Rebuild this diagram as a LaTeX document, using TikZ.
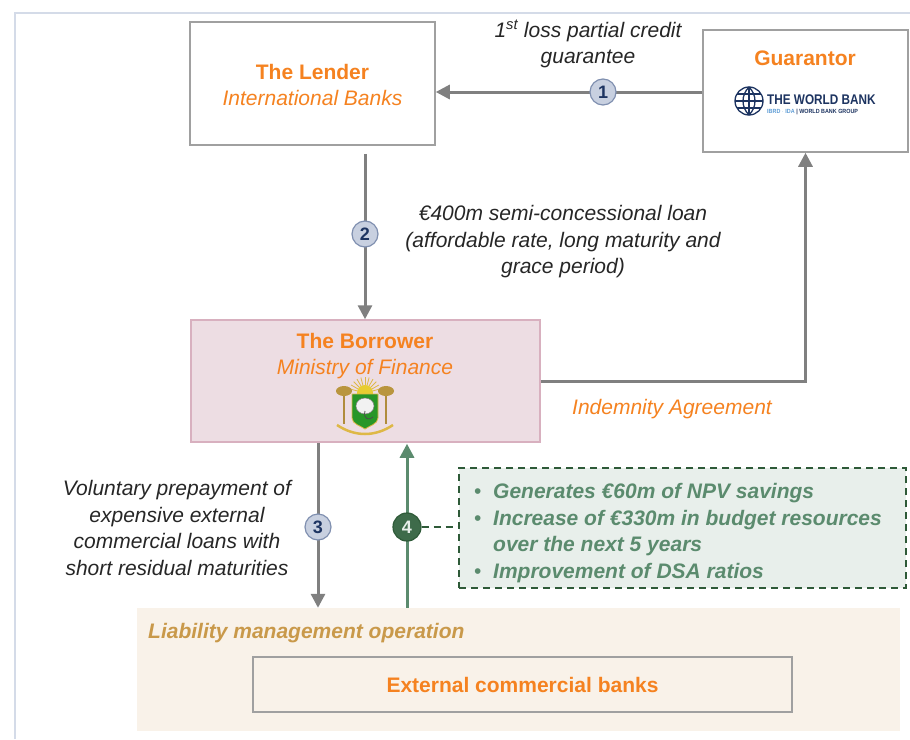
\documentclass[tikz,border=0pt]{standalone}
\usepackage{fontspec}
\setmainfont{Liberation Sans}
\usetikzlibrary{arrows.meta}
\definecolor{orng}{RGB}{245,130,32}
\definecolor{txt}{RGB}{38,38,38}
\definecolor{boxgray}{RGB}{160,160,160}
\definecolor{flowgray}{RGB}{128,128,128}
\definecolor{pinkfill}{RGB}{237,221,227}
\definecolor{pinkedge}{RGB}{216,176,191}
\definecolor{grn}{RGB}{91,139,110}
\definecolor{dkgrn}{RGB}{46,90,56}
\definecolor{midgrn}{RGB}{62,107,74}
\definecolor{grnfill}{RGB}{232,239,235}
\definecolor{beige}{RGB}{249,242,233}
\definecolor{lmotxt}{RGB}{201,153,74}
\definecolor{nbfill}{RGB}{200,208,224}
\definecolor{nbedge}{RGB}{128,144,176}
\definecolor{navy}{RGB}{29,52,97}
\definecolor{ltblue}{RGB}{91,155,213}
\definecolor{framec}{RGB}{212,219,232}
\definecolor{gold}{RGB}{222,184,70}
\definecolor{palm}{RGB}{176,140,60}
\definecolor{shield}{RGB}{40,150,40}
\begin{document}
\begin{tikzpicture}
[x=1pt,y=-1pt
,bx/.style={draw=boxgray,line width=1.5pt,inner sep=0pt}
,fl/.style={draw=flowgray,line width=3pt,arrows={-Triangle[width=14pt,length=14pt]}}
,gfl/.style={fl,draw=grn,arrows={-Triangle[width=14pt,length=14pt,fill=grn]}}
,nb/.style={circle,draw=nbedge,fill=nbfill,line width=1.2pt,minimum size=26pt,inner sep=0pt,text=navy,font=\fontsize{18}{18}\selectfont\bfseries}
,gnb/.style={nb,draw=dkgrn,fill=midgrn,text=white!85!grn}
,lbl/.style={align=center,text=txt,font=\fontsize{21}{26.5}\selectfont\itshape}
,ttl/.style={align=center,text=orng,font=\fontsize{21}{26.5}\selectfont}
]
\useasboundingbox (0,0) rectangle (910,739);
\draw[framec,line width=2pt] (15,739) -- (15,13) -- (910,13);

% boxes
\node[fill=beige,minimum width=763pt,minimum height=123pt,inner sep=0pt] (lmo) at (518.5,669.5) {};
\node[anchor=west,text=lmotxt,font=\fontsize{21}{26}\selectfont\bfseries\itshape,inner sep=0pt] (lmotitle) at (148,633) {Liability management operation};
\node[bx,fill=white,minimum width=245pt,minimum height=123pt] (lender) at (312.5,83.5) {};
\node[ttl] (lendertxt) at (312.5,85) {\bfseries The Lender\\\itshape International Banks};
\node[bx,fill=white,minimum width=205pt,minimum height=122pt] (guarantor) at (805.5,91) {};
\node[ttl,font=\fontsize{21}{26}\selectfont\bfseries] (guarantortxt) at (805,58) {Guarantor};
\node[bx,draw=pinkedge,fill=pinkfill,minimum width=349pt,minimum height=122pt] (borrower) at (365.5,381) {};
\node[ttl] (borrowertxt) at (365,356) {\bfseries The Borrower\\\itshape Ministry of Finance};
\node[bx,fill=none,minimum width=539pt,minimum height=55pt] (banks) at (522.5,684.5) {};
\node[ttl,font=\fontsize{21}{26}\selectfont\bfseries] (bankstxt) at (banks) {External commercial banks};
\node[draw=dkgrn,fill=grnfill,line width=2pt,dash pattern=on 7pt off 5pt,minimum width=447pt,minimum height=120pt,inner sep=0pt] (benefits) at (682.5,528) {};
\node[anchor=west,align=left,inner sep=0pt,text=grn,font=\fontsize{21}{26.6}\selectfont\bfseries\itshape] (benefitstxt) at (474,533)
{\makebox[19pt][l]{\mdseries\upshape\textbullet}Generates €60m of NPV savings\\
\makebox[19pt][l]{\mdseries\upshape\textbullet}Increase of €330m in budget resources\\
\hspace*{19pt}over the next 5 years\\
\makebox[19pt][l]{\mdseries\upshape\textbullet}Improvement of DSA ratios};

% world bank logo
\begin{scope}[navy,line width=1.3pt]
\draw (749,101) circle (14);
\draw (749,87) .. controls (741,95) and (741,107) .. (749,115);
\draw (749,87) .. controls (757,95) and (757,107) .. (749,115);
\draw (749,87) -- (749,115);
\draw (737,94) -- (761,94);
\draw (735,101) -- (763,101);
\draw (737,108) -- (761,108);
\end{scope}
\node[anchor=west,inner sep=0pt,text=navy,font=\fontsize{14}{14}\selectfont\bfseries] (wbname) at (767,100) {\scalebox{0.84}[1]{THE WORLD BANK}};
\node[anchor=west,inner sep=0pt,text=navy,font=\fontsize{6}{6}\selectfont\bfseries] (wbgroup) at (767,111.5) {\scalebox{0.9}[1]{\textcolor{ltblue}{IBRD $\cdot$ IDA} | WORLD BANK GROUP}};

% emblem
\begin{scope}[shift={(365,406)}]
\foreach \a in {195,210,...,345} \draw[gold,line width=0.8pt] (0,-13) -- ++(\a:16);
\fill[gold!70!yellow] (0,-13) circle (8);
\draw[palm,line width=2.2pt] (-21,-14) -- (-21,18);
\draw[palm,line width=2.2pt] (21,-14) -- (21,18);
\fill[palm!80!gold] (-21,-15) ellipse (8 and 5);
\fill[palm!80!gold] (21,-15) ellipse (8 and 5);
\filldraw[fill=shield,draw=gold,line width=0.8pt] (-13,-12) -- (13,-12) -- (13,12) .. controls (13,18) and (4,20) .. (0,23) .. controls (-4,20) and (-13,18) .. (-13,12) -- cycle;
\filldraw[fill=white!90!gray,draw=gray,line width=0.5pt] (0,0) ellipse (9 and 8);
\draw[gray!60!black,line width=0.8pt] (0,5) .. controls (-2,13) and (4,15) .. (8,11);
\draw[gold,line width=2.5pt] (-28,19) .. controls (-10,31) and (10,31) .. (28,19);
\end{scope}

% flows
\coordinate (c1) at (603,92);
\coordinate (c2) at (365,234);
\coordinate (c3) at (318,527);
\coordinate (c4) at (407,527);
\draw[fl] (guarantor.west |- c1) -- (lender.east |- c1);
\draw[fl,shorten <=8pt] (c2 |- lender.south) -- (c2 |- borrower.north);
\draw[fl] (borrower.east) -| (guarantor.south);
\draw[fl] (c3 |- borrower.south) -- (c3 |- lmo.north);
\draw[gfl,shorten >=1pt] (c4 |- lmo.north) -- (c4 |- borrower.south);
\node[nb] (n1) at (c1) {1};
\node[nb] (n2) at (c2) {2};
\node[nb] (n3) at (c3) {3};
\node[gnb,minimum size=28pt] (n4) at (c4) {4};
\draw[dkgrn,line width=2pt,dash pattern=on 7pt off 5pt] (n4) -- (benefits.west |- n4);

% labels
\node[lbl] (guaranteelbl) at (588,44) {1\textsuperscript{st} loss partial credit\\guarantee};
\node[lbl] (loanlbl) at (563,242) {€400m semi-concessional loan\\(affordable rate, long maturity and\\grace period)};
\node[lbl,text=orng] (indemnitylbl) at (672,409) {Indemnity Agreement};
\node[lbl] (prepaylbl) at (177,528) {Voluntary prepayment of\\expensive external\\commercial loans with\\short residual maturities};
\end{tikzpicture}
\end{document}
